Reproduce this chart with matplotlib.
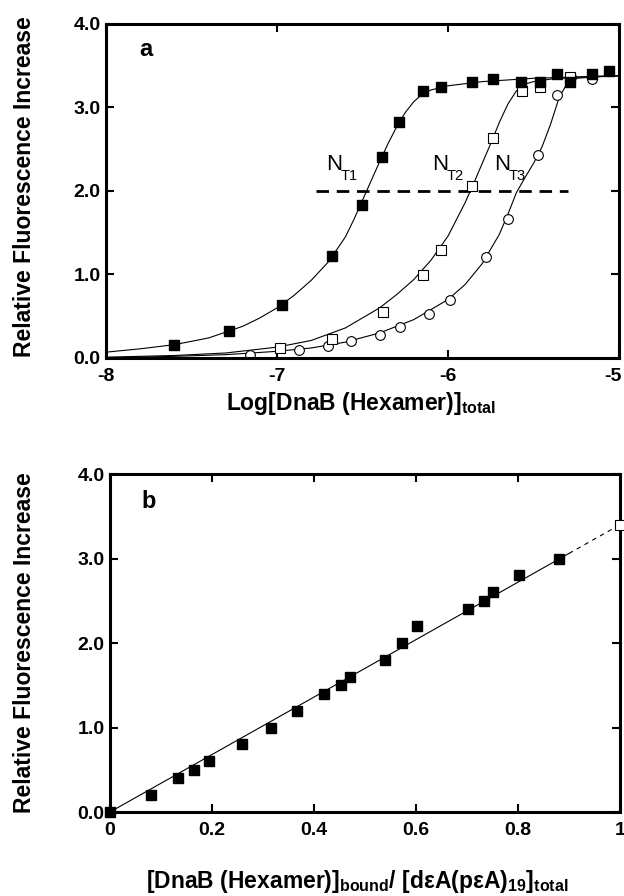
import matplotlib
matplotlib.use("Agg")
import matplotlib.pyplot as plt
import matplotlib.transforms as mtransforms

# ---------------- Panel a data ----------------
nt1_x = [-7.60, -7.28, -6.97, -6.68, -6.505, -6.384, -6.288, -6.144, -6.041, -5.860, -5.737, -5.573, -5.460, -5.361, -5.287, -5.156, -5.057]
nt1_y = [0.16, 0.32, 0.64, 1.22, 1.83, 2.41, 2.83, 3.20, 3.25, 3.30, 3.34, 3.30, 3.30, 3.40, 3.30, 3.40, 3.44]

nt2_x = [-6.98, -6.68, -6.38, -6.144, -6.041, -5.858, -5.739, -5.569, -5.460, -5.287]
nt2_y = [0.12, 0.23, 0.55, 0.99, 1.29, 2.06, 2.64, 3.20, 3.25, 3.36]

nt3_x = [-7.16, -6.87, -6.70, -6.57, -6.40, -6.28, -6.11, -5.99, -5.780, -5.647, -5.472, -5.361, -5.280, -5.156]
nt3_y = [0.04, 0.09, 0.14, 0.20, 0.28, 0.37, 0.53, 0.70, 1.21, 1.66, 2.43, 3.15, 3.36, 3.34]

# fitted curves
fit1_x = [-8.0, -7.8, -7.6, -7.4, -7.2, -7.1, -7.0, -6.9, -6.8, -6.7, -6.6, -6.55, -6.5, -6.45, -6.4, -6.35, -6.3, -6.25, -6.2, -6.15, -6.1, -6.0, -5.8, -5.5, -5.0]
fit1_y = [0.07, 0.11, 0.16, 0.24, 0.38, 0.48, 0.60, 0.75, 0.93, 1.15, 1.45, 1.66, 1.89, 2.12, 2.35, 2.57, 2.77, 2.94, 3.07, 3.16, 3.21, 3.26, 3.31, 3.35, 3.38]
fit2_x = [-8.0, -7.6, -7.3, -7.0, -6.8, -6.6, -6.4, -6.3, -6.2, -6.1, -6.0, -5.9, -5.85, -5.8, -5.75, -5.7, -5.65, -5.6, -5.55, -5.5, -5.4, -5.2, -5.0]
fit2_y = [0.01, 0.03, 0.06, 0.13, 0.21, 0.36, 0.60, 0.76, 0.94, 1.17, 1.46, 1.86, 2.09, 2.33, 2.57, 2.82, 3.04, 3.20, 3.28, 3.31, 3.34, 3.37, 3.38]
fit3_x = [-8.0, -7.6, -7.3, -7.0, -6.8, -6.6, -6.4, -6.2, -6.0, -5.9, -5.8, -5.7, -5.65, -5.6, -5.55, -5.5, -5.45, -5.4, -5.35, -5.3, -5.25, -5.1, -5.0]
fit3_y = [0.0, 0.02, 0.04, 0.08, 0.12, 0.19, 0.30, 0.46, 0.70, 0.88, 1.13, 1.48, 1.72, 1.98, 2.16, 2.33, 2.53, 2.80, 3.12, 3.30, 3.35, 3.37, 3.38]

half_x = [-6.77, -5.30]
half_y = [2.0, 2.0]

a_xticks = [-8, -7, -6, -5]
a_xticklabels = ["-8", "-7", "-6", "-5"]
yticks = [0, 1, 2, 3, 4]
yticklabels = ["0.0", "1.0", "2.0", "3.0", "4.0"]

# ---------------- Panel b data ----------------
b_x = [0.0, 0.080, 0.133, 0.165, 0.195, 0.258, 0.316, 0.367, 0.419, 0.452, 0.470, 0.540, 0.572, 0.601, 0.702, 0.733, 0.751, 0.801, 0.881]
b_y = [0.0, 0.2, 0.4, 0.5, 0.6, 0.8, 1.0, 1.2, 1.4, 1.5, 1.6, 1.8, 2.0, 2.2, 2.4, 2.5, 2.6, 2.8, 3.0]
b_open_x = [1.0]
b_open_y = [3.4]
bline_solid_x = [0.0, 0.90]
bline_solid_y = [0.0, 3.06]
bline_dash_x = [0.90, 1.0]
bline_dash_y = [3.06, 3.4]

b_xticks = [0, 0.2, 0.4, 0.6, 0.8, 1.0]
b_xticklabels = ["0", "0.2", "0.4", "0.6", "0.8", "1"]

plt.rcParams['font.family'] = ['Liberation Sans', 'DejaVu Sans']
plt.rcParams['mathtext.fontset'] = 'custom'
plt.rcParams['mathtext.rm'] = 'Liberation Sans'
plt.rcParams['mathtext.bf'] = 'Liberation Sans:bold'

fig = plt.figure(figsize=(6.24, 8.96), dpi=100)
W, H = 624, 896

def add_ax(l, t, r, b):
    return fig.add_axes([l / W, 1 - b / H, (r - l) / W, (b - t) / H])

axa = add_ax(106, 24, 619, 358)
axb = add_ax(110, 474, 620, 812)

def style(ax):
    for s in ax.spines.values():
        s.set_linewidth(2.2)
    ax.tick_params(direction='in', length=6, width=1.5, top=True, right=True,
                   labelsize=14)
    ax.tick_params(axis='x', pad=7)
    ax.tick_params(axis='y', pad=4)
    for lab in ax.get_xticklabels() + ax.get_yticklabels():
        lab.set_fontweight('bold')

ms = 7
# Panel a
for fx, fy in [(fit1_x, fit1_y), (fit2_x, fit2_y), (fit3_x, fit3_y)]:
    axa.plot(fx, fy, color='black', lw=0.8)
axa.plot(half_x, half_y, color='black', lw=2.0, dashes=(4.5, 2.8))
axa.plot(nt3_x, nt3_y, 'o', mfc='white', mec='black', mew=0.8, ms=ms)
axa.plot(nt2_x, nt2_y, 's', mfc='white', mec='black', mew=0.8, ms=ms)
axa.plot(nt1_x, nt1_y, 's', mfc='black', mec='black', ms=ms)
axa.set_xlim(-8, -5)
axa.set_ylim(0, 4)
axa.set_xticks(a_xticks)
axa.set_xticklabels(a_xticklabels)
axa.set_yticks(yticks)
axa.set_yticklabels(yticklabels)
style(axa)
lastlab = axa.get_xticklabels()[-1]
lastlab.set_transform(lastlab.get_transform() + mtransforms.ScaledTranslation(-6 / 100, 0, fig.dpi_scale_trans))
axa.text(0.064, 0.925, 'a', transform=axa.transAxes, fontsize=17, fontweight='bold', va='center')
for lx, ly, sub in [(-6.713, 2.25, 'T1'), (-6.094, 2.25, 'T2'), (-5.731, 2.25, 'T3')]:
    axa.text(lx, ly, 'N', fontsize=16, ha='left', va='baseline')
    axa.annotate(sub, xy=(lx, ly), xytext=(10.5, -7), textcoords='offset points',
                 fontsize=10.5, ha='left', va='baseline')

fig.text(25 / W, 1 - 187 / H, 'Relative Fluorescence Increase', rotation=90, ha='center', va='center',
         fontsize=16.5, fontweight='bold')
fig.text(361 / W, 1 - 403 / H, r'Log[DnaB (Hexamer)]$_{\mathbf{total}}$', ha='center', va='center',
         fontsize=16.5, fontweight='bold')

# Panel b
axb.plot(bline_solid_x, bline_solid_y, color='black', lw=0.8)
axb.plot(bline_dash_x, bline_dash_y, color='black', lw=0.8, dashes=(4, 4))
axb.plot(b_x, b_y, 's', mfc='black', mec='black', ms=ms, clip_on=False, zorder=5)
axb.plot(b_open_x, b_open_y, 's', mfc='white', mec='black', mew=0.8, ms=ms, clip_on=False, zorder=5)
axb.set_xlim(0, 1)
axb.set_ylim(0, 4)
axb.set_xticks(b_xticks)
axb.set_xticklabels(b_xticklabels)
axb.set_yticks(yticks)
axb.set_yticklabels(yticklabels)
style(axb)
axb.text(0.062, 0.92, 'b', transform=axb.transAxes, fontsize=17, fontweight='bold', va='center')
fig.text(25 / W, 1 - 643 / H, 'Relative Fluorescence Increase', rotation=90, ha='center', va='center',
         fontsize=16.5, fontweight='bold')
fig.text(357 / W, 1 - 881 / H,
         r'[DnaB (Hexamer)]$_{\mathbf{bound}}$/ [d$\mathbf{\varepsilon}$A(p$\mathbf{\varepsilon}$A)$_{\mathbf{19}}$]$_{\mathbf{total}}$',
         ha='center', va='center', fontsize=16.5, fontweight='bold')

fig.savefig('out.png', dpi=100)
